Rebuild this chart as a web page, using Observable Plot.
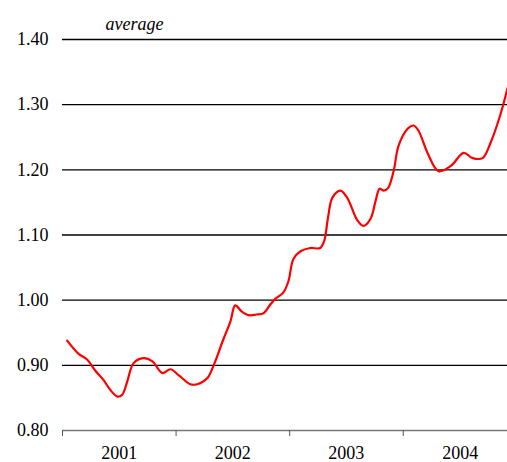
<!DOCTYPE html>
<html>
<head>
<meta charset="utf-8">
<script src="https://cdn.jsdelivr.net/npm/d3@7"></script>
<script src="https://cdn.jsdelivr.net/npm/@observablehq/plot@0.6"></script>
<style>
  html, body { margin: 0; padding: 0; background: #fff; }
</style>
</head>
<body>
<div id="chart"></div>
<script>
const dates = [
  "2001-01-16","2001-02-21","2001-03-21","2001-04-16","2001-05-12","2001-06-04","2001-06-27",
  "2001-07-12","2001-07-28","2001-08-17","2001-09-18","2001-10-17","2001-11-18","2001-12-14",
  "2002-01-09","2002-02-16","2002-03-10","2002-04-11","2002-04-30","2002-06-02","2002-06-25",
  "2002-07-10","2002-07-30","2002-08-22","2002-09-16","2002-10-09","2002-11-01","2002-11-16",
  "2002-12-12","2002-12-28","2003-01-13","2003-02-05","2003-03-08","2003-04-09","2003-04-22",
  "2003-05-05","2003-05-18","2003-06-13","2003-07-05","2003-08-07","2003-08-26","2003-09-18",
  "2003-10-04","2003-10-17","2003-10-30","2003-11-13","2003-12-01","2003-12-17","2004-01-15",
  "2004-02-03","2004-02-19","2004-03-19","2004-04-23","2004-06-02","2004-07-13","2004-08-11",
  "2004-09-12","2004-10-08","2004-11-09","2004-12-01"
];
const values = [
  0.938,0.918,0.909,0.892,0.878,0.862,0.852,
  0.855,0.875,0.903,0.911,0.906,0.888,0.894,
  0.885,0.871,0.871,0.880,0.898,0.940,0.968,
  0.992,0.983,0.977,0.978,0.980,0.994,1.002,
  1.012,1.029,1.063,1.075,1.080,1.080,1.091,
  1.129,1.157,1.168,1.157,1.122,1.114,1.125,
  1.152,1.171,1.168,1.172,1.198,1.237,1.263,
  1.268,1.260,1.226,1.198,1.206,1.226,1.218,
  1.218,1.242,1.286,1.325
];
const yTicks = [0.8, 0.9, 1.0, 1.1, 1.2, 1.3, 1.4];
const gridValues = [0.9, 1.0, 1.1, 1.2, 1.3, 1.4];
const yearStarts = ["2001-01-01","2002-01-01","2003-01-01","2004-01-01"];
const yearLabels = ["2001","2002","2003","2004"];
const yearMids = ["2001-07-02","2002-07-02","2003-07-02","2004-07-02"];
const unitLabel = "average";

const data = dates.map((d, i) => ({date: new Date(d), value: values[i]}));
const starts = yearStarts.map(d => new Date(d));
const mids = yearMids.map(d => new Date(d));

const chart = Plot.plot({
  width: 507,
  height: 462,
  marginLeft: 62,
  marginRight: 0,
  marginTop: 39,
  marginBottom: 32,
  style: {fontFamily: "'Liberation Serif', 'Times New Roman', serif", fontSize: "18px", color: "#000", background: "#fff"},
  x: {type: "utc", domain: [new Date("2001-01-01"), new Date("2004-12-01")]},
  y: {domain: [0.8, 1.4]},
  marks: [
    Plot.ruleY(gridValues, {stroke: "#000", strokeWidth: 1.3}),
    Plot.ruleY([0.8], {stroke: "#777", strokeWidth: 1.4}),
    Plot.axisY({ticks: yTicks, tickSize: 0, tickPadding: 14, tickFormat: d3.format(".2f"), label: null, fill: "#000"}),
    Plot.axisX({ticks: starts, tickSize: 6, tickFormat: () => "", label: null, stroke: "#555"}),
    Plot.axisX({ticks: mids, tickSize: 0, tickPadding: 16, tickFormat: (d, i) => yearLabels[i], label: null, fill: "#000"}),
    Plot.line(data, {x: "date", y: "value", stroke: "#ff0000", strokeWidth: 2.2, curve: "catmull-rom"}),
    Plot.text([unitLabel], {frameAnchor: "top-left", textAnchor: "start", lineAnchor: "middle", dx: 43, dy: -15, fontStyle: "italic", fill: "#000"})
  ]
});
document.getElementById("chart").appendChild(chart);
</script>
</body>
</html>
